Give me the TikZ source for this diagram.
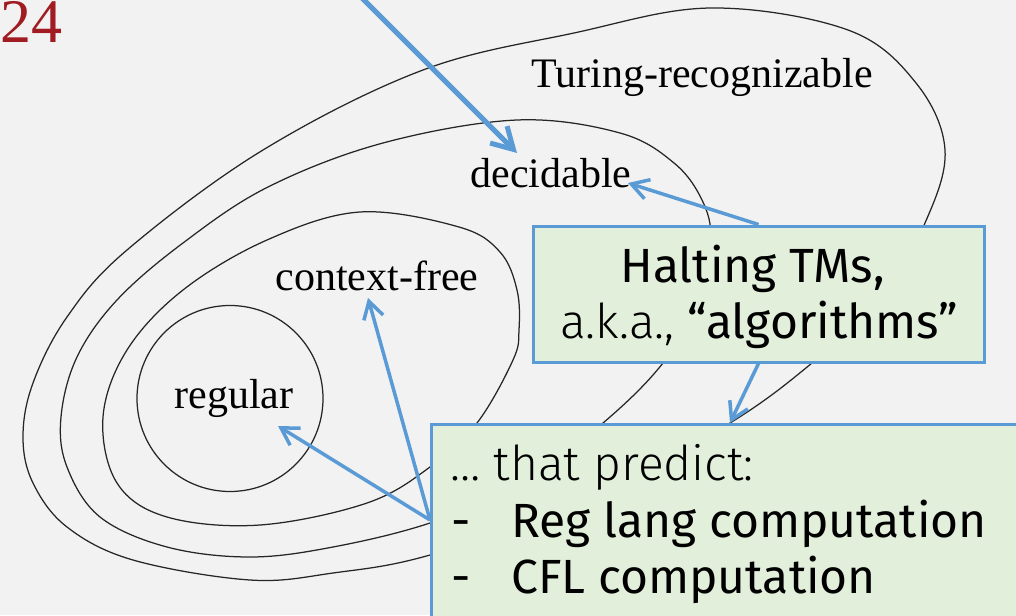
\documentclass[tikz,border=0pt]{standalone}
\usepackage{fontspec}
\setmainfont{Liberation Serif}
\newfontfamily\fira{Fira Sans}
\newfontfamily\firalight{Fira Sans Light}
\usetikzlibrary{arrows.meta,calc}
\definecolor{bg}{HTML}{F2F2F2}
\definecolor{accent}{HTML}{5B9BD5}
\definecolor{boxfill}{HTML}{E2EFDA}
\definecolor{pagered}{HTML}{A01C22}
\begin{document}
\begin{tikzpicture}[x=1pt,y=-1pt,
  setline/.style={line width=1.25pt, draw=black!85},
  lbl/.style={font=\fontsize{42}{42}\selectfont, anchor=base, inner sep=0pt, text=black},
  card/.style={draw=accent, fill=boxfill, line width=3pt, inner sep=0pt},
  cardtext/.style={font=\fira\fontsize{48}{48}\selectfont, inner sep=0pt},
  conn/.style={draw=accent, line width=3.5pt, -{Straight Barb[length=17pt,width=20pt]}},
  bigconn/.style={draw=accent, line width=5pt, -{Straight Barb[length=21pt,width=24pt]}},
]
\useasboundingbox (0,0) rectangle (1016,615);
\clip (0,0) rectangle (1016,615);
\fill[bg] (0,0) rectangle (1016,615);

% nested language classes
\draw[setline] plot[smooth cycle, tension=0.6] coordinates {
  (574,33) (711,8) (848,30) (916,83) (945,150) (925,223) (880,300) (812,363)
  (730,423) (590,500) (430,555) (333,573) (250,580) (133,560) (67,527) (33,483)
  (23,437) (33,383) (67,317) (127,250) (263,150) (423,70)};
\draw[setline] plot[smooth cycle, tension=0.6] coordinates {
  (517,120) (620,133) (674,163) (702,200) (711,240) (700,300) (663,363) (603,423)
  (520,485) (430,523) (333,547) (250,557) (167,547) (100,517) (67,467) (61,417)
  (77,357) (117,300) (183,243) (268,187) (383,143)};
\draw[setline] plot[smooth cycle, tension=0.6] coordinates {
  (360,212) (459,227) (500,252) (517,290) (519,330) (513,360) (477,423) (430,467)
  (367,503) (260,525) (167,517) (117,483) (103,417) (127,350) (183,290) (267,240)};
\node[setline, draw, circle, minimum size=186pt, inner sep=0pt] (regc) at (230,398.5) {};

% labels
\node[anchor=base west, inner sep=0pt, text=pagered, font=\fontsize{62}{62}\selectfont] (pg) at (0,43) {24};
\node[lbl] (tr) at (702,88) {Turing-recognizable};
\node[lbl] (dec) at (551,187) {decidable};
\node[lbl] (cf) at (377,290) {context-free};
\node[lbl] (reg) at (234,408) {regular};

% boxes
\node[card, minimum width=451pt, minimum height=136pt] (b1) at (758.5,294) {};
\node[card, anchor=north west, minimum width=640pt, minimum height=240pt] (b2) at (430,423) {};

\node[cardtext, anchor=base] (h1) at (752.5,282) {Halting TMs,};
\node[cardtext, anchor=base] (h2) at (759,338) {{\firalight a.k.a.,} “algorithms”};
\node[cardtext, anchor=base west] (p0) at (450,480) {\firalight … that predict:};
\node[cardtext, anchor=base west] (d1) at (451,537) {-};
\node[cardtext, anchor=base west] (p1) at (511,537) {Reg lang computation};
\node[cardtext, anchor=base west] (d2) at (451,593) {-};
\node[cardtext, anchor=base west] (p2) at (511,593) {CFL computation};

% connectors
\coordinate (src) at (358,-6);
\coordinate (tdecA) at (517,153);
\coordinate (tdecB) at (628,183);
\coordinate (treg) at (278,426);
\coordinate (tcf) at (368,298);
\coordinate (b2w) at ($(b2.north west)+(0,97)$);
\coordinate (b2n) at ($(b2.north west)+(300,0)$);
\draw[bigconn] (src) -- (tdecA);
\draw[conn] (b1.north) -- (tdecB);
\draw[conn] (b1.south) -- (b2n);
\draw[conn] (b2w) -- (treg);
\draw[conn] (b2w) -- (tcf);
\end{tikzpicture}
\end{document}
